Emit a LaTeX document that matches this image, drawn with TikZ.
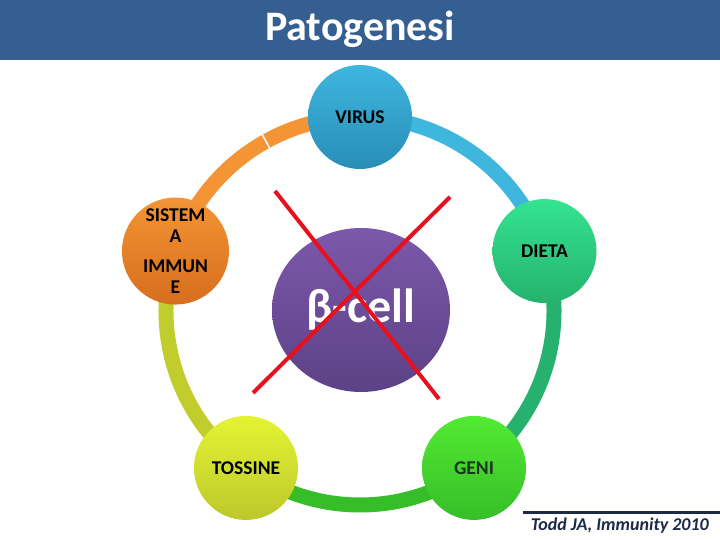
\documentclass[tikz,border=0pt]{standalone}
\usepackage{fontspec}
\setmainfont{Carlito}
\usetikzlibrary{shapes.geometric, calc}
\definecolor{barColor}{RGB}{54,95,145}
\definecolor{citColor}{RGB}{28,42,72}
\definecolor{crossColor}{RGB}{232,16,28}
\definecolor{virusTop}{RGB}{62,182,222}
\definecolor{virusBot}{RGB}{40,142,184}
\definecolor{dietaTop}{RGB}{52,228,144}
\definecolor{dietaBot}{RGB}{38,178,110}
\definecolor{geniTop}{RGB}{82,234,50}
\definecolor{geniBot}{RGB}{54,190,40}
\definecolor{tossTop}{RGB}{228,244,50}
\definecolor{tossBot}{RGB}{188,200,44}
\definecolor{sistTop}{RGB}{244,148,52}
\definecolor{sistBot}{RGB}{214,110,30}
\definecolor{cellTop}{RGB}{124,88,170}
\definecolor{cellBot}{RGB}{92,66,134}

\begin{document}
\begin{tikzpicture}[x=1pt, y=1pt,
    nodo/.style={circle, minimum size=104pt, inner sep=0pt, align=center,
        font=\fontsize{19.5}{21.5}\selectfont\bfseries},
    anello/.style={line width=15pt}]
    \useasboundingbox (0,0) rectangle (720,540);

    % Barra del titolo
    \fill[barColor] (0,480) rectangle (720,540);
    \node[anchor=base, white, font=\fontsize{42}{44}\selectfont\bfseries] (titolo) at (360,499) {Patogenesi};

    % Centro dell'anello
    \coordinate (C) at (360,229);

    % Cerchi esterni (solo posizioni)
    \coordinate (pV) at ($(C)+(90:194)$);
    \coordinate (pD) at ($(C)+(18:194)$);
    \coordinate (pG) at ($(C)+(-54:194)$);
    \coordinate (pT) at ($(C)+(-126:194)$);
    \coordinate (pS) at ($(C)+(162:194)$);

    % Archi dell'anello
    \draw[anello, virusTop] (pV) arc[start angle=90, end angle=18, radius=194];
    \draw[anello, dietaBot] (pD) arc[start angle=18, end angle=-54, radius=194];
    \draw[anello, geniBot] (pG) arc[start angle=-54, end angle=-126, radius=194];
    \draw[anello, tossBot!90!tossTop] (pT) arc[start angle=-126, end angle=-198, radius=194];
    \draw[anello, sistTop] (pS) arc[start angle=162, end angle=90, radius=194];
    \draw[white, line width=1.5pt] ($(C)+(119:185)$) -- ($(C)+(119:203)$);

    % Nodi
    \node[nodo, top color=virusTop, bottom color=virusBot] (virus) at (pV) {VIRUS};
    \node[nodo, top color=dietaTop, bottom color=dietaBot] (dieta) at (pD) {DIETA};
    \node[nodo, top color=geniTop, bottom color=geniBot, text={rgb,255:red,28;green,52;blue,32}] (geni) at (pG) {GENI};
    \node[nodo, top color=tossTop, bottom color=tossBot] (tossine) at (pT) {TOSSINE};
    \node[nodo, top color=sistTop, bottom color=sistBot] (sistema) at (pS) {SISTEM\\A\\[8pt]IMMUN\\E};

    % Cellula beta
    \node[ellipse, minimum width=178pt, minimum height=164pt, inner sep=0pt,
        top color=cellTop, bottom color=cellBot, white,
        font=\fontsize{48}{50}\selectfont\bfseries] (bcell) at (361,230) {β-cell};

    % Croce rossa
    \coordinate (X1a) at (275,349);
    \coordinate (X1b) at (439,141);
    \coordinate (X2a) at (450,343);
    \coordinate (X2b) at (253,147);
    \draw[crossColor, line width=4pt] (X1a) -- (X1b);
    \draw[crossColor, line width=4pt] (X2a) -- (X2b);

    % Citazione
    \coordinate (L0) at (523,27.5);
    \coordinate (L1) at (720,27.5);
    \draw[citColor, line width=3pt] (L0) -- (L1);
    \node[anchor=base east, citColor, inner sep=0pt, font=\fontsize{18}{20}\selectfont\bfseries\itshape] (cit) at (709,9) {Todd JA, Immunity 2010};
\end{tikzpicture}
\end{document}
